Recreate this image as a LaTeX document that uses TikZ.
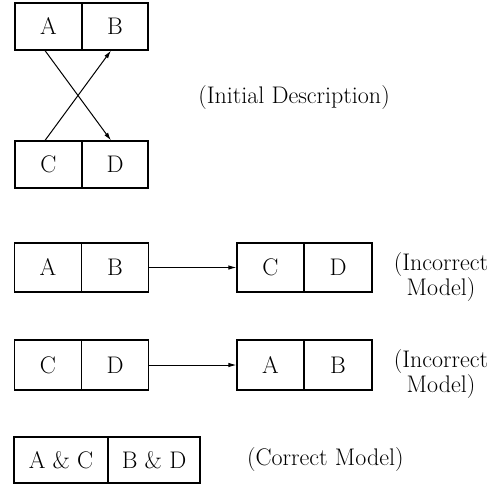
\documentclass[tikz,border=0pt]{standalone}
\usetikzlibrary{arrows.meta}
\begin{document}
\begin{tikzpicture}[x=1pt,y=-1pt,
  cell/.style={draw,line width=1.1pt,minimum height=47pt,inner sep=0pt,text height=16.4pt,text depth=0pt,font=\fontsize{24}{28}\selectfont},
  lab/.style={inner sep=0pt,font=\fontsize{24}{23}\selectfont},
  arr/.style={line width=1pt,-{Latex[length=8pt,width=4.5pt]}}]
\useasboundingbox (0,0) rectangle (500,488);
% initial description
\node[cell,minimum width=67pt] (a1) at (48.5,26.5) {A};
\node[cell,minimum width=66pt] (b1) at (115,26.5) {B};
\node[cell,minimum width=67pt] (c1) at (48.5,164.5) {C};
\node[cell,minimum width=66pt] (d1) at (115,164.5) {D};
\draw[arr] ([xshift=-3.5pt]a1.south) -- ([xshift=-4pt]d1.north);
\draw[arr] ([xshift=-3.5pt]c1.north) -- ([xshift=-4pt]b1.south);
\node[lab] (t1) at (294,98) {(Initial Description)};
% incorrect model 1
\node[cell,minimum width=67pt,minimum height=49pt] (a2) at (48,267.5) {A};
\node[cell,minimum width=67pt,minimum height=49pt] (b2) at (115,267.5) {B};
\node[cell,minimum width=67pt,minimum height=49pt] (c2) at (270.5,267.5) {C};
\node[cell,minimum width=68pt,minimum height=49pt] (d2) at (338,267.5) {D};
\draw[arr] (b2.east) -- (c2.west);
\node[lab,align=center] (t2) at (441,277) {(Incorrect\\Model)};
% incorrect model 2
\node[cell,minimum width=67pt,minimum height=50pt] (c3) at (48,365) {C};
\node[cell,minimum width=67pt,minimum height=50pt] (d3) at (115,365) {D};
\node[cell,minimum width=67pt,minimum height=50pt] (a3) at (270.5,365) {A};
\node[cell,minimum width=68pt,minimum height=50pt] (b3) at (338,365) {B};
\node[lab,align=center] (t3) at (441,374) {(Incorrect\\Model)};
\draw[arr] (d3.east) -- (a3.west);
% correct model
\node[cell,minimum width=94pt,minimum height=46pt] (ac) at (61,460) {A \& C};
\node[cell,minimum width=92pt,minimum height=46pt] (bd) at (154,460) {B \& D};
\node[lab,anchor=west] (t4) at (247,460) {(Correct Model)};
\end{tikzpicture}
\end{document}
